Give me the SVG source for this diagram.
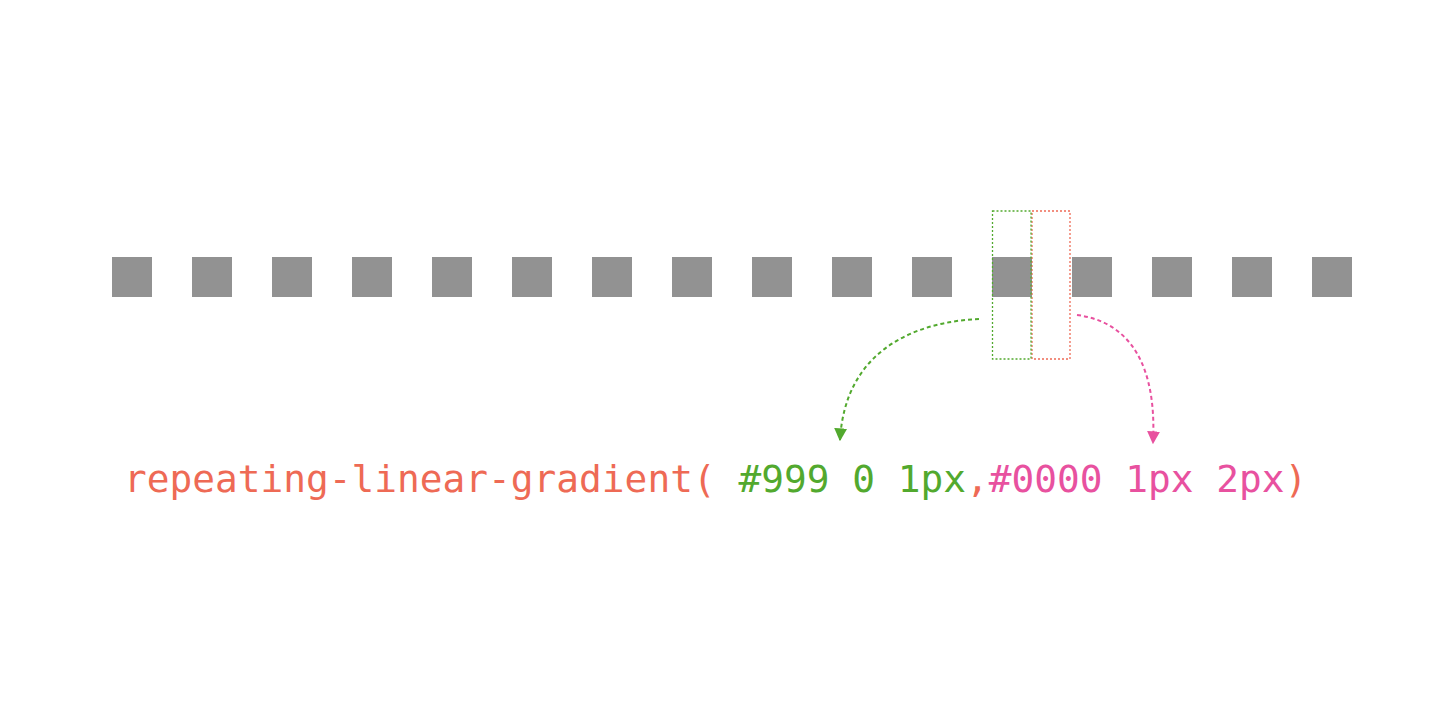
<svg xmlns="http://www.w3.org/2000/svg" width="1456" height="706" viewBox="0 0 1456 706">
<style>
.sq{fill:#929292}
.code{font-family:"DejaVu Sans Mono","Liberation Mono",monospace;font-size:37.8px}
.o{fill:#ee6a55}.g{fill:#52a92e}.p{fill:#e8519f}
</style>
<defs>
<marker id="ag" viewBox="0 0 10 10" refX="9" refY="5" markerWidth="6.5" markerHeight="6.5" orient="auto" markerUnits="strokeWidth"><path d="M0,0 L10,5 L0,10 Z" fill="#52a92e"/></marker>
<marker id="ap" viewBox="0 0 10 10" refX="9" refY="5" markerWidth="6.5" markerHeight="6.5" orient="auto" markerUnits="strokeWidth"><path d="M0,0 L10,5 L0,10 Z" fill="#e8519f"/></marker>
</defs>
<rect width="1456" height="706" fill="#fff"/>
<g id="squares">
<rect class="sq" x="112" y="257" width="40" height="40"/>
<rect class="sq" x="192" y="257" width="40" height="40"/>
<rect class="sq" x="272" y="257" width="40" height="40"/>
<rect class="sq" x="352" y="257" width="40" height="40"/>
<rect class="sq" x="432" y="257" width="40" height="40"/>
<rect class="sq" x="512" y="257" width="40" height="40"/>
<rect class="sq" x="592" y="257" width="40" height="40"/>
<rect class="sq" x="672" y="257" width="40" height="40"/>
<rect class="sq" x="752" y="257" width="40" height="40"/>
<rect class="sq" x="832" y="257" width="40" height="40"/>
<rect class="sq" x="912" y="257" width="40" height="40"/>
<rect class="sq" x="992" y="257" width="40" height="40"/>
<rect class="sq" x="1072" y="257" width="40" height="40"/>
<rect class="sq" x="1152" y="257" width="40" height="40"/>
<rect class="sq" x="1232" y="257" width="40" height="40"/>
<rect class="sq" x="1312" y="257" width="40" height="40"/>
</g>
<g id="box-red">
<rect x="1032" y="211" width="38" height="148" fill="none" stroke="#ee6a55" stroke-width="1.3" stroke-dasharray="2 2"/>
</g>
<g id="box-green">
<rect x="992.5" y="211" width="38.5" height="148" fill="none" stroke="#52a92e" stroke-width="1.3" stroke-dasharray="2 2"/>
</g>
<g id="connectors" fill="none" stroke-width="2" stroke-dasharray="4 3">
<path d="M979,319 C912,322 845,352 840,440" stroke="#52a92e" marker-end="url(#ag)"/>
<path d="M1077,315 C1130,322 1157,365 1153,443" stroke="#e8519f" marker-end="url(#ap)"/>
</g>
<g id="code">
<text class="code" x="124" y="492"><tspan class="o">repeating-linear-gradient(</tspan><tspan class="g"> #999 0 1px</tspan><tspan class="o">,</tspan><tspan class="p">#0000 1px 2px</tspan><tspan class="o">)</tspan></text>
</g>
</svg>
